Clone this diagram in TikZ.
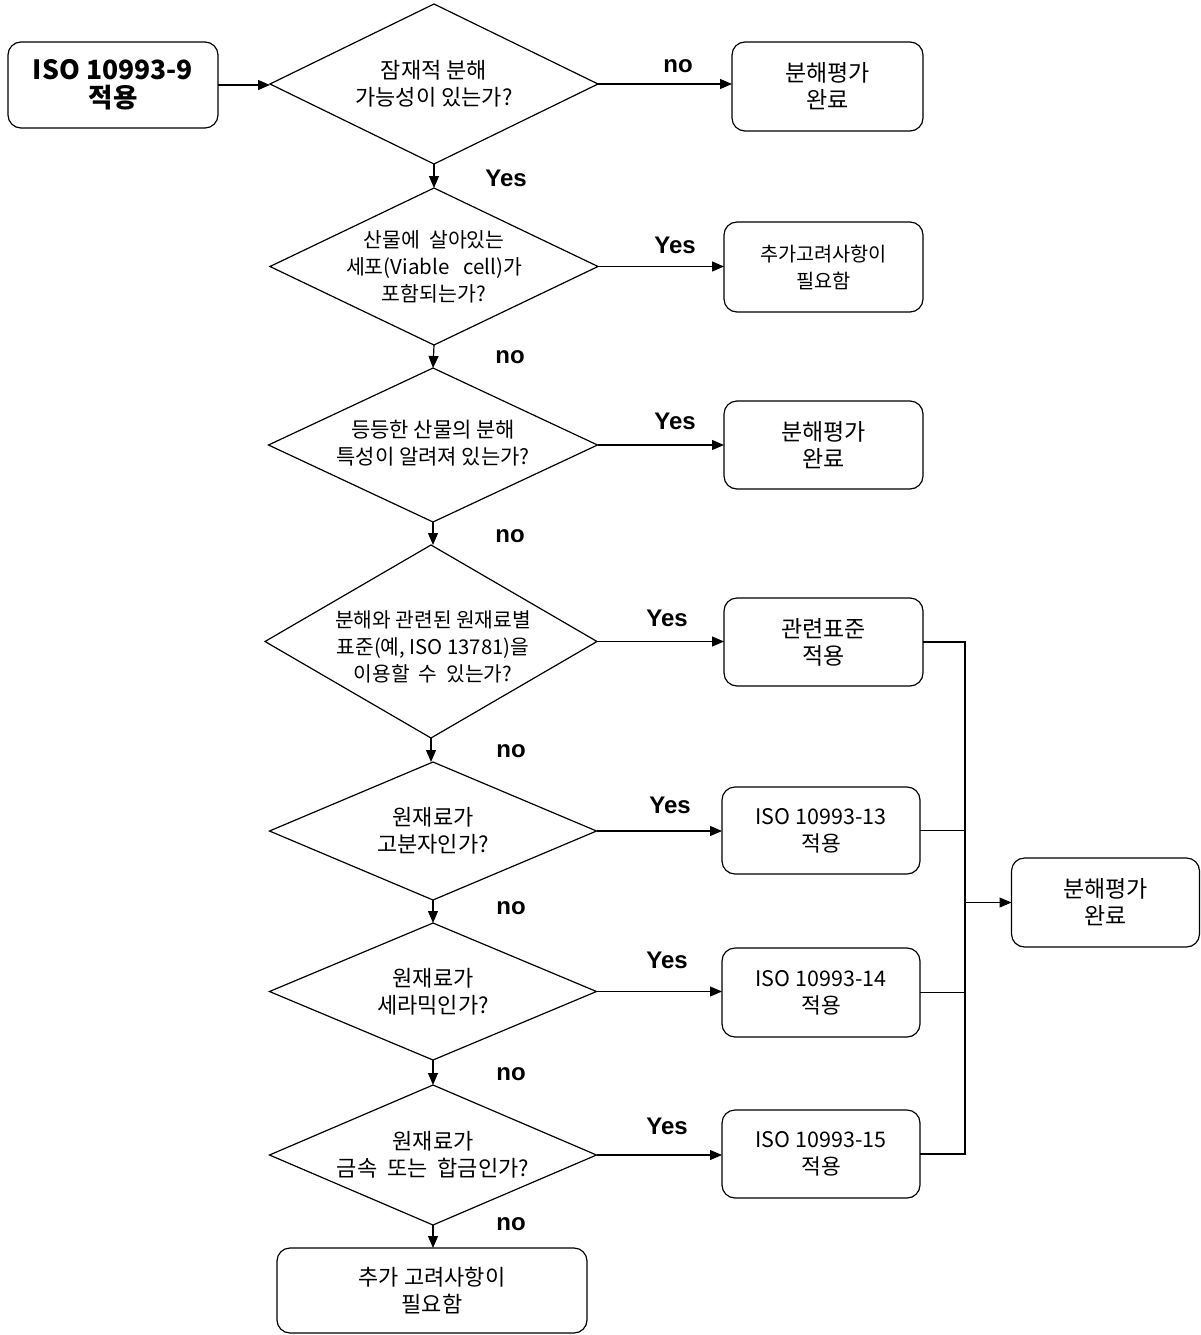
\documentclass[tikz,border=0pt]{standalone}
\usepackage{fontspec}
\setmainfont{Noto Sans CJK KR}
\newfontfamily\labfont{Liberation Sans}
\usetikzlibrary{shapes.geometric,arrows.meta}
\begin{document}
\begin{tikzpicture}[x=1pt,y=-1pt,
  every node/.style={inner sep=0pt, outer sep=0pt},
  dia/.style={draw, line width=1.2pt, shape=diamond, inner sep=0pt},
  rbox/.style={draw, line width=1.2pt, rounded corners=13pt, align=center, font=\fontsize{23}{27}\selectfont},
  dtext/.style={align=center, font=\fontsize{22}{27}\selectfont},
  lab/.style={font=\labfont\bfseries\fontsize{24}{26}\selectfont},
  conn/.style={line width=1.1pt},
  arr/.style={line width=1.2pt, -{Triangle[length=12pt,width=10pt]}}]
\useasboundingbox (0,0) rectangle (1201,1335);

% start
\node[rbox, minimum width=210pt, minimum height=86pt, font=\bfseries\fontsize{26.5}{28}\selectfont] (s) at (113,85) {ISO 10993-9\\적용};

% diamonds
\node[dia, minimum width=328pt, minimum height=160pt] (d1) at (434,84) {};
\node[dtext] (t1) at (d1) {잠재적 분해\\가능성이 있는가?};
\node[dia, minimum width=328pt, minimum height=157pt] (d2) at (434,266.5) {};
\node[dtext, font=\fontsize{20.5}{27}\selectfont] (t2) at (d2) {산물에 \ 살아있는\\세포(Viable \ \ cell)가\\포함되는가?};
\node[dia, minimum width=329pt, minimum height=154pt] (d3) at (433,445) {};
\node[dtext, font=\fontsize{21}{27}\selectfont] (t3) at (433,443) {등등한 산물의 분해\\특성이 알려져 있는가?};
\node[dia, minimum width=332pt, minimum height=193pt] (d4) at (431,641.5) {};
\node[dtext, font=\fontsize{20.3}{27}\selectfont] (t4) at (433,647) {분해와 관련된 원재료별\\표준(예, ISO 13781)을\\이용할 \ 수 \ 있는가?};
\node[dia, minimum width=327pt, minimum height=138pt] (d5) at (433,831) {};
\node[dtext] (t5) at (d5) {원재료가\\고분자인가?};
\node[dia, minimum width=327pt, minimum height=137pt] (d6) at (433,991.5) {};
\node[dtext] (t6) at (d6) {원재료가\\세라믹인가?};
\node[dia, minimum width=327pt, minimum height=140pt] (d7) at (433,1155) {};
\node[dtext] (t7) at (d7) {원재료가\\금속 \ 또는 \ 합금인가?};

% boxes
\node[rbox, minimum width=191pt, minimum height=89pt] (b1) at (827.5,86.5) {분해평가\\완료};
\node[rbox, minimum width=199pt, minimum height=90pt, font=\fontsize{19.7}{27}\selectfont] (b2) at (823.5,267) {추가고려사항이\\필요함};
\node[rbox, minimum width=199pt, minimum height=88pt] (b3) at (823.5,445) {분해평가\\완료};
\node[rbox, minimum width=199pt, minimum height=88pt] (b4) at (823.5,642) {관련표준\\적용};
\node[rbox, minimum width=198pt, minimum height=87pt, font=\fontsize{21.5}{27}\selectfont] (b5) at (821,830.5) {ISO 10993-13\\적용};
\node[rbox, minimum width=198pt, minimum height=89pt, font=\fontsize{21.5}{27}\selectfont] (b6) at (821,992.5) {ISO 10993-14\\적용};
\node[rbox, minimum width=198pt, minimum height=88pt, font=\fontsize{21.5}{27}\selectfont] (b7) at (821,1154) {ISO 10993-15\\적용};
\node[rbox, minimum width=188pt, minimum height=89pt] (fin) at (1105.5,902.5) {분해평가\\완료};
\node[rbox, minimum width=310pt, minimum height=85pt, font=\fontsize{22}{27}\selectfont] (end) at (432,1290.5) {추가 고려사항이\\필요함};

% vertical flow
\draw[arr] (s.east) -- (s.east -| d1.west);
\draw[arr] (d1.south) -- (d2.north);
\draw[arr] (d2.south) -- (d3.north);
\draw[arr] (d3.south) -- (d3.south |- d4.north);
\draw[arr] (d4.south) -- (d4.south |- d5.north);
\draw[arr] (d5.south) -- (d6.north);
\draw[arr] (d6.south) -- (d7.north);
\draw[arr] (d7.south) -- (d7.south |- end.north);

% horizontal
\draw[arr] (d1.east) -- (d1.east -| b1.west);
\draw[arr] (d2.east) -- (d2.east -| b2.west);
\draw[arr] (d3.east) -- (d3.east -| b3.west);
\draw[arr] (d4.east) -- (d4.east -| b4.west);
\draw[arr] (d5.east) -- (d5.east -| b5.west);
\draw[arr] (d6.east) -- (d6.east -| b6.west);
\draw[arr] (d7.east) -- (d7.east -| b7.west);

% merge
\coordinate (m) at (965,902.5);
\draw[conn] (b4.east) -| (m);
\draw[conn] (b5.east) -| (m);
\draw[conn] (b6.east) -| (m);
\draw[conn] (b7.east) -| (m);
\draw[arr] (m) -- (fin.west);

% labels
\node[lab] (l1) at (678,66) {no};
\node[lab] (l2) at (506,178) {Yes};
\node[lab] (l3) at (675,245) {Yes};
\node[lab] (l4) at (510,357) {no};
\node[lab] (l5) at (675,421) {Yes};
\node[lab] (l6) at (510,536) {no};
\node[lab] (l7) at (667,618) {Yes};
\node[lab] (l8) at (511,751) {no};
\node[lab] (l9) at (670,805) {Yes};
\node[lab] (l10) at (511,908) {no};
\node[lab] (l11) at (667,960) {Yes};
\node[lab] (l12) at (511,1074) {no};
\node[lab] (l13) at (667,1126) {Yes};
\node[lab] (l14) at (511,1224) {no};
\end{tikzpicture}
\end{document}
